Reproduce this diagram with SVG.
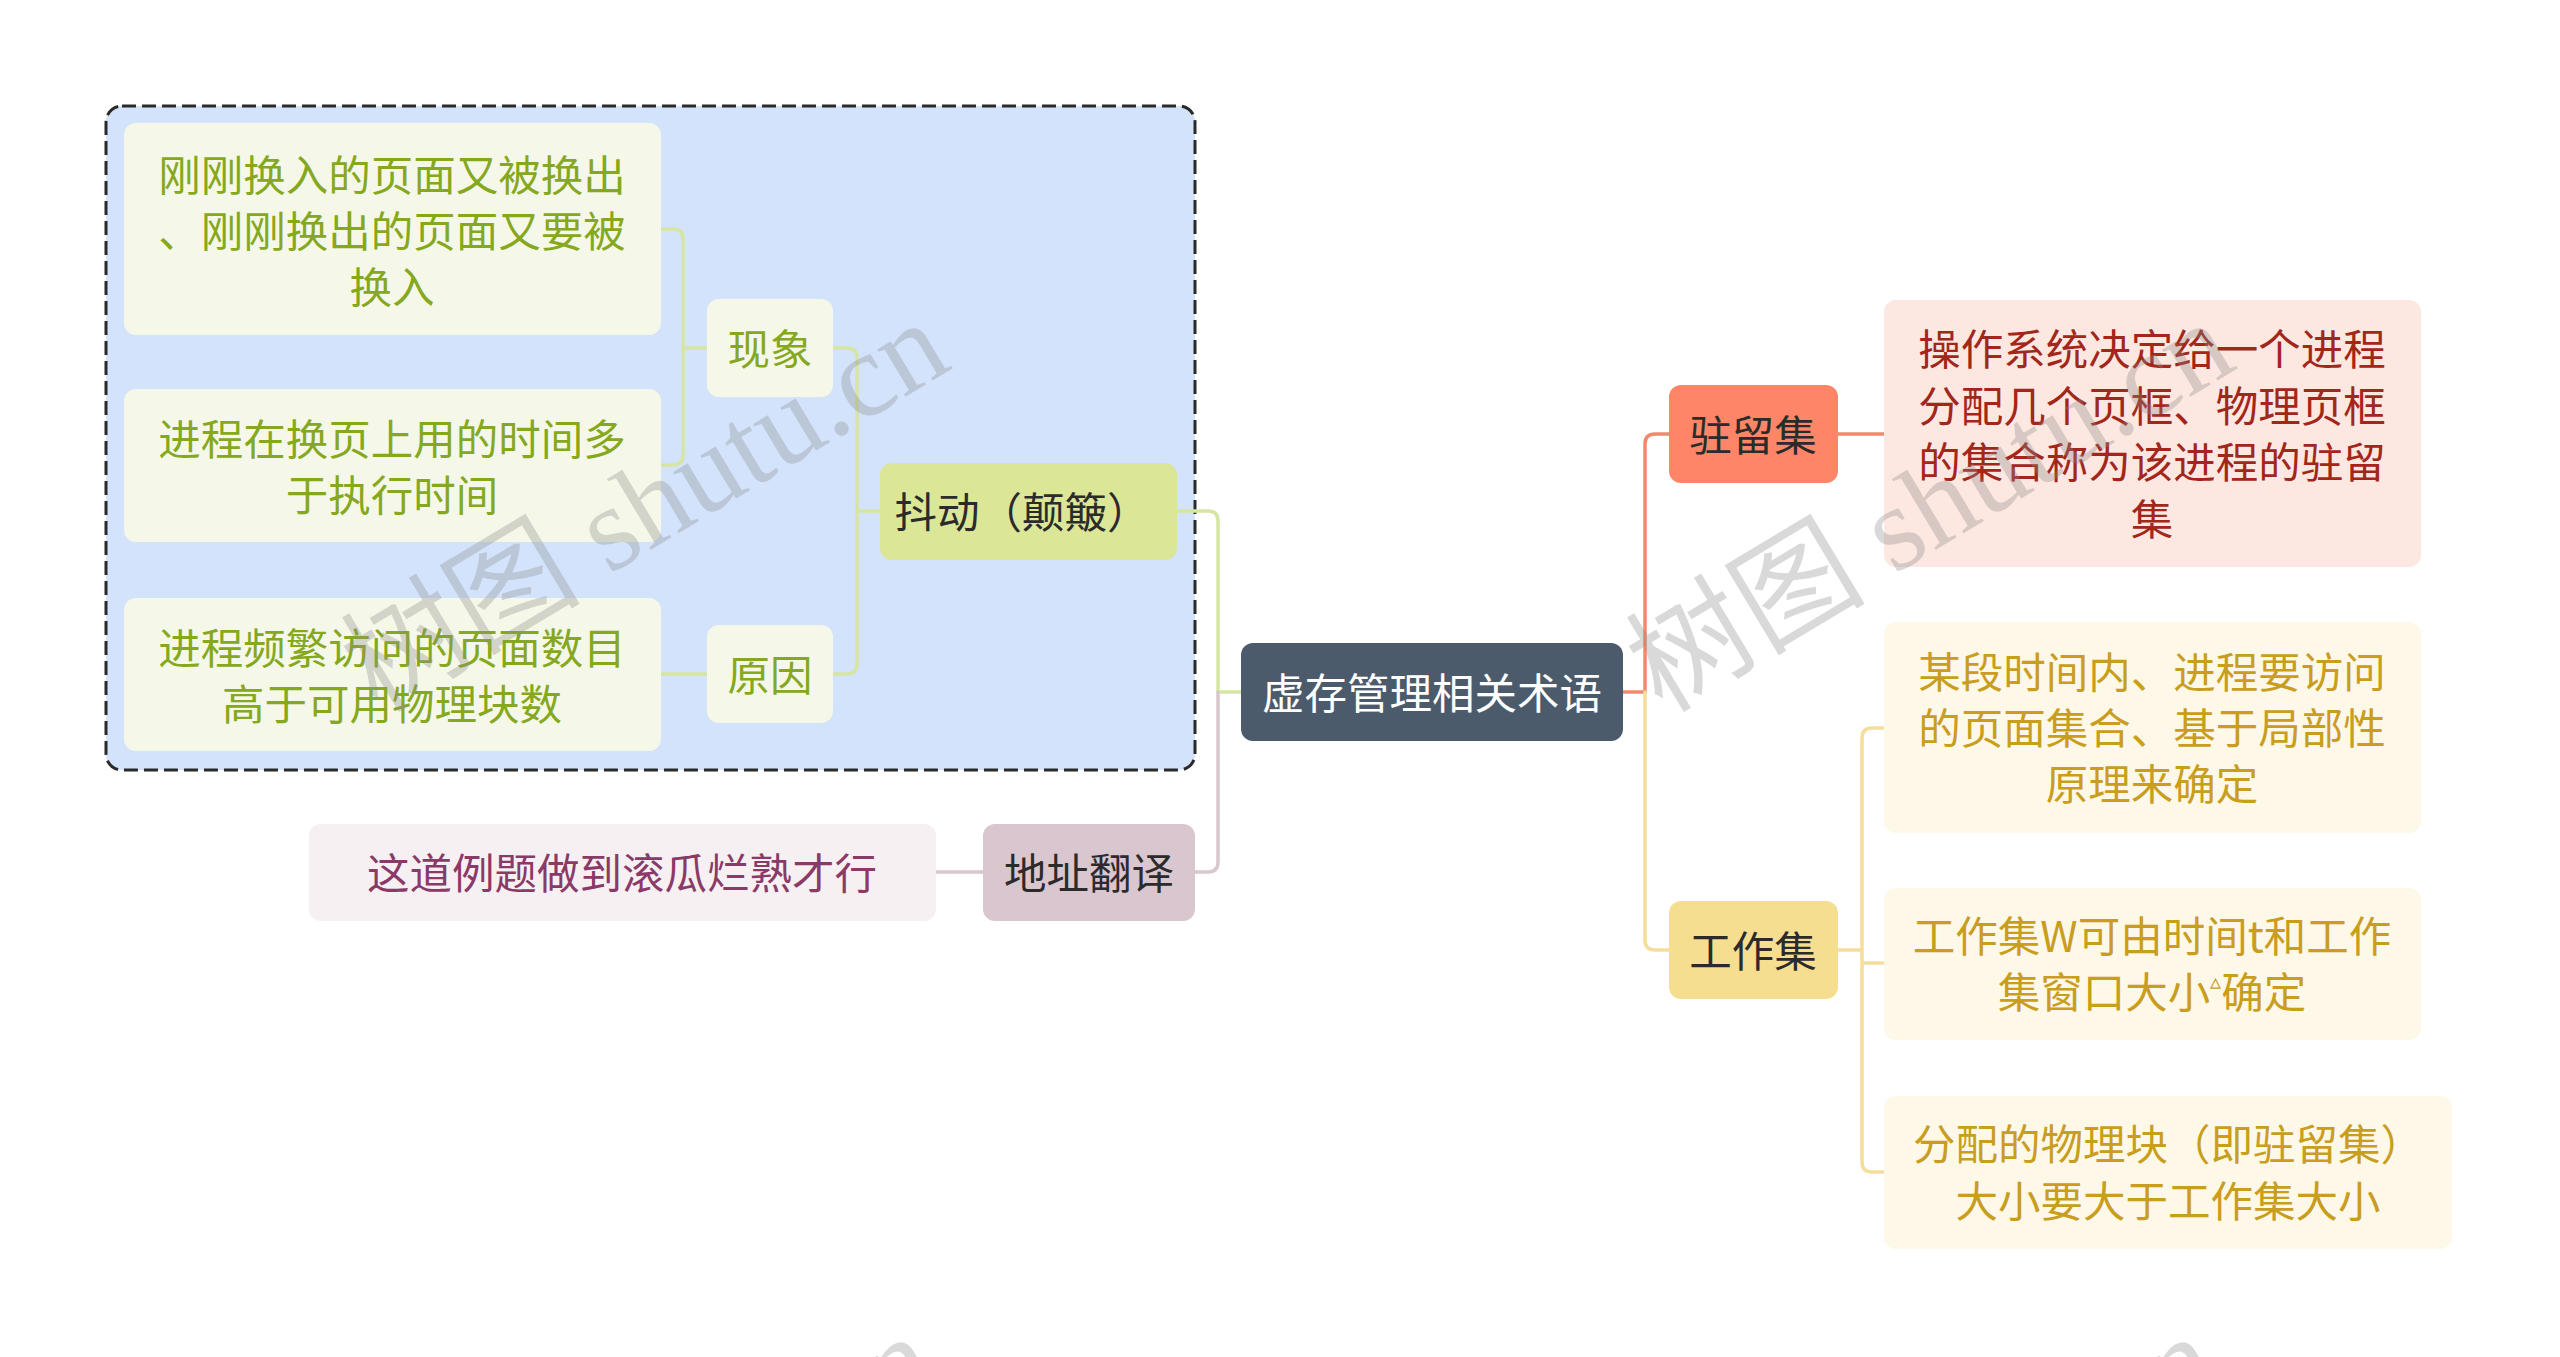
<svg xmlns="http://www.w3.org/2000/svg" width="2560" height="1357" viewBox="0 0 2560 1357">
<style>
text{font-family:"Noto Sans CJK SC","Noto Sans",sans-serif;font-size:42.5px;text-anchor:middle;dominant-baseline:central}
.c{fill:none;stroke-width:3.5;stroke-linecap:round}
.g{stroke:#d6e6a2}.p{stroke:#d8c8ce}.r{stroke:#ef8a6c}.y{stroke:#f5dd9c}
.leafG{fill:#f5f8e9}.tG{fill:#86a81e}
.tD{fill:#2b2b2b}
.leafR{fill:#fde7e1}.tR{fill:#a3261a}
.leafY{fill:#fef8e8}.tY{fill:#c99d1d}
.wm{font-family:"Liberation Serif","Noto Sans CJK SC",serif;font-size:120px;fill:#8a8a8a;opacity:0.32}
</style>
<rect width="2560" height="1357" fill="#ffffff"/>
<g id="boundary">
<rect x="106" y="106" width="1089" height="664" rx="16" fill="#d3e3fb" stroke="#2a2a2a" stroke-width="3" stroke-dasharray="14 6"/>
</g>
<g id="connectors">
<path class="c g" d="M661,229 H673 Q683,229 683,239 V455 Q683,465 673,465 H661 M683,348 H707"/>
<path class="c g" d="M833,348 H847 Q857,348 857,358 V664 Q857,674 847,674 H833 M857,511 H880"/>
<path class="c g" d="M661,674 H707"/>
<path class="c g" d="M1177,511 H1208 Q1218,511 1218,521 V692 H1241"/>
<path class="c p" d="M1218,692 V862 Q1218,872 1208,872 H1195"/>
<path class="c p" d="M936,872 H983"/>
<path class="c r" d="M1623,692 H1645 V444 Q1645,434 1655,434 H1669 M1838,434 H1884"/>
<path class="c y" d="M1645,692 V940 Q1645,950 1655,950 H1669 M1838,950 H1862 M1884,728 H1872 Q1862,728 1862,738 V1162 Q1862,1172 1872,1172 H1884 M1862,963 H1884"/>
</g>
<g id="n-box1"><rect class="leafG" x="124" y="123" width="537" height="212" rx="12"/>
<text class="tG" x="392" y="172">刚刚换入的页面又被换出</text><text class="tG" x="392" y="228">、刚刚换出的页面又要被</text><text class="tG" x="392" y="284">换入</text></g>
<g id="n-box2"><rect class="leafG" x="124" y="389" width="537" height="153" rx="12"/>
<text class="tG" x="392" y="436">进程在换页上用的时间多</text><text class="tG" x="392" y="492">于执行时间</text></g>
<g id="n-box3"><rect class="leafG" x="124" y="598" width="537" height="153" rx="12"/>
<text class="tG" x="392" y="645">进程频繁访问的页面数目</text><text class="tG" x="392" y="701">高于可用物理块数</text></g>
<g id="n-xianxiang"><rect class="leafG" x="707" y="299" width="126" height="98" rx="12"/><text class="tG" x="770" y="346">现象</text></g>
<g id="n-yuanyin"><rect class="leafG" x="707" y="625" width="126" height="98" rx="12"/><text class="tG" x="770" y="672">原因</text></g>
<g id="n-doudong"><rect x="880" y="463" width="297" height="97" rx="12" fill="#dbe696"/><text class="tD" x="1022" y="509">抖动（颠簸）</text></g>
<g id="n-dizhi"><rect x="983" y="824" width="212" height="97" rx="12" fill="#d9c6cf"/><text class="tD" x="1089" y="870">地址翻译</text></g>
<g id="n-lizhi"><rect x="309" y="824" width="627" height="97" rx="12" fill="#f6f0f3"/><text x="622" y="870" fill="#8b3a68">这道例题做到滚瓜烂熟才行</text></g>
<g id="n-root"><rect x="1241" y="643" width="382" height="98" rx="12" fill="#4b5b6b"/><text x="1432" y="690" fill="#ffffff">虚存管理相关术语</text></g>
<g id="n-zhuliu"><rect x="1669" y="385" width="169" height="98" rx="12" fill="#fe8567"/><text class="tD" x="1753" y="432">驻留集</text></g>
<g id="n-zhuliu-d"><rect class="leafR" x="1884" y="300" width="537" height="267" rx="12"/>
<text class="tR" x="2152" y="346">操作系统决定给一个进程</text><text class="tR" x="2152" y="403">分配几个页框、物理页框</text><text class="tR" x="2152" y="459">的集合称为该进程的驻留</text><text class="tR" x="2152" y="516">集</text></g>
<g id="n-gongzuo"><rect x="1669" y="901" width="169" height="98" rx="12" fill="#f6de90"/><text class="tD" x="1753" y="948">工作集</text></g>
<g id="n-gz1"><rect class="leafY" x="1884" y="622" width="537" height="211" rx="12"/>
<text class="tY" x="2152" y="669">某段时间内、进程要访问</text><text class="tY" x="2152" y="725">的页面集合、基于局部性</text><text class="tY" x="2152" y="781">原理来确定</text></g>
<g id="n-gz2"><rect class="leafY" x="1884" y="888" width="537" height="152" rx="12"/>
<text class="tY" x="2152" y="933">工作集W可由时间t和工作</text><text class="tY" x="2152" y="989">集窗口大小<tspan font-size="22" dy="-10">▵</tspan><tspan dy="10">确定</tspan></text></g>
<g id="n-gz3"><rect class="leafY" x="1884" y="1096" width="568" height="153" rx="12"/>
<text class="tY" x="2168" y="1141">分配的物理块（即驻留集）</text><text class="tY" x="2168" y="1198">大小要大于工作集大小</text></g>
<g id="watermark">
<text class="wm" transform="translate(645,506) rotate(-31)">树图 shutu.cn</text>
<text class="wm" transform="translate(1930,506) rotate(-31)">树图 shutu.cn</text>
<text class="wm" transform="translate(632,1520) rotate(-31)">树图 shutu.cn</text>
<text class="wm" transform="translate(1914,1520) rotate(-31)">树图 shutu.cn</text>
</g>
</svg>
